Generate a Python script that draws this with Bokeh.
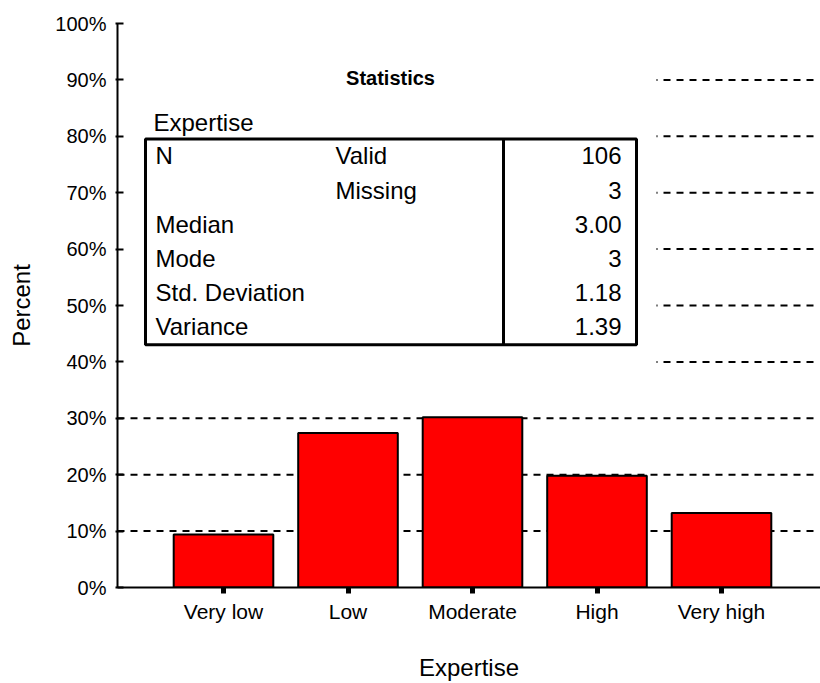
from bokeh.plotting import figure
from bokeh.models import FixedTicker, PrintfTickFormatter, Range1d
from bokeh.core.properties import value
from bokeh.embed import file_html
from bokeh.resources import INLINE

# ---- data ----
categories = ["Very low", "Low", "Moderate", "High", "Very high"]
percent = [9.4, 27.4, 30.2, 19.8, 13.2]
cat_pos = [1, 2, 3, 4, 5]
y_ticks = [0, 10, 20, 30, 40, 50, 60, 70, 80, 90, 100]
grid_vals = [10, 20, 30, 40, 50, 60, 70, 80, 90]

table_title = "Statistics"
table_var = "Expertise"
row_labels = ["N", "", "Median", "Mode", "Std. Deviation", "Variance"]
row_sub = ["Valid", "Missing", "", "", "", ""]
row_values = ["106", "3", "3.00", "3", "1.18", "1.39"]

FONT = "Liberation Sans"

W, H = 820, 683
# ---- layout helpers (canvas pixel -> data) ----
PX_LEFT, PX_RIGHT = 117, 820
PX_BOTTOM, PX_TOP = 590, 23
UNIT_X = 124.5
X_START = 1 - (223 - PX_LEFT) / UNIT_X
X_END = X_START + (PX_RIGHT - PX_LEFT) / UNIT_X
UNIT_Y = (PX_BOTTOM - PX_TOP) / 100.0


def sx(px):
    return X_START + (px - PX_LEFT) / UNIT_X


def sy(py):
    return (PX_BOTTOM - py) / UNIT_Y


p = figure(width=W, height=H, output_backend="svg", toolbar_location=None,
           x_range=Range1d(X_START, X_END), y_range=Range1d(0, 100),
           min_border_left=PX_LEFT, min_border_right=0,
           min_border_top=PX_TOP, min_border_bottom=H - PX_BOTTOM)
p.outline_line_color = None
p.xgrid.visible = False
p.ygrid.visible = False
p.background_fill_color = "white"
p.border_fill_color = "white"

# dashed gridlines
p.segment(x0=[X_START] * len(grid_vals), x1=[sx(815)] * len(grid_vals),
          y0=grid_vals, y1=grid_vals, line_color="black", line_width=2,
          line_dash="7 6")

# white background of the statistics table (hides gridlines)
p.quad(left=[X_START], right=[sx(656)], bottom=[sy(385)], top=[sy(60)],
       fill_color="white", line_color=None)

# bars
p.vbar(x=cat_pos, top=percent, width=0.8, bottom=0,
       fill_color="#FF0000", line_color="black", line_width=2)

# statistics table
p.quad(left=[sx(145)], right=[sx(636)], bottom=[sy(346)], top=[sy(139)],
       fill_color=None, line_color="black", line_width=3)
p.segment(x0=[sx(503)], x1=[sx(503)], y0=[sy(346)], y1=[sy(139)],
          line_color="black", line_width=3)

p.text(x=[sx(390)], y=[sy(78)], text=[table_title], text_font=value(FONT),
       text_font_size="20px", text_font_style="bold", text_align="center",
       text_baseline="middle", text_color="black")
p.text(x=[sx(153)], y=[sy(123)], text=[table_var], text_font=value(FONT),
       text_font_size="24px", text_align="left", text_baseline="middle",
       text_color="black")

row_px = [156, 190.5, 225, 259, 293, 328]
row_y = [sy(v) for v in row_px]
p.text(x=[sx(155)] * 6, y=row_y, text=row_labels, text_font=value(FONT),
       text_font_size="24px", text_align="left", text_baseline="middle",
       text_color="black")
p.text(x=[sx(335)] * 6, y=row_y, text=row_sub, text_font=value(FONT),
       text_font_size="24px", text_align="left", text_baseline="middle",
       text_color="black")
p.text(x=[sx(621)] * 6, y=row_y, text=row_values, text_font=value(FONT),
       text_font_size="24px", text_align="right", text_baseline="middle",
       text_color="black")

# axes
xa = p.xaxis[0]
xa.ticker = FixedTicker(ticks=cat_pos)
xa.major_label_overrides = {i: c for i, c in zip(cat_pos, categories)}
xa.axis_label = "Expertise"
xa.minor_tick_line_color = None
xa.major_tick_in = 0
xa.major_tick_out = 6
xa.major_tick_line_width = 5
xa.axis_line_width = 2
xa.major_label_standoff = 6
xa.axis_label_standoff = 28
xa.major_label_text_font_size = "21px"

ya = p.yaxis[0]
ya.ticker = FixedTicker(ticks=y_ticks)
ya.formatter = PrintfTickFormatter(format="%d%%")
ya.axis_label = "Percent"
ya.minor_tick_line_color = None
ya.major_tick_in = 6
ya.major_tick_out = 2
ya.major_tick_line_width = 2
ya.axis_line_width = 2
ya.major_label_standoff = 9
ya.axis_label_standoff = 17
ya.major_label_text_font_size = "20px"

for ax in (xa, ya):
    ax.major_label_text_font = FONT
    ax.major_label_text_color = "black"
    ax.axis_label_text_font = FONT
    ax.axis_label_text_font_size = "24px"
    ax.axis_label_text_font_style = "normal"
    ax.axis_label_text_color = "black"
    ax.axis_line_color = "black"
    ax.major_tick_line_color = "black"

open("out.html", "w").write(file_html(p, INLINE))
